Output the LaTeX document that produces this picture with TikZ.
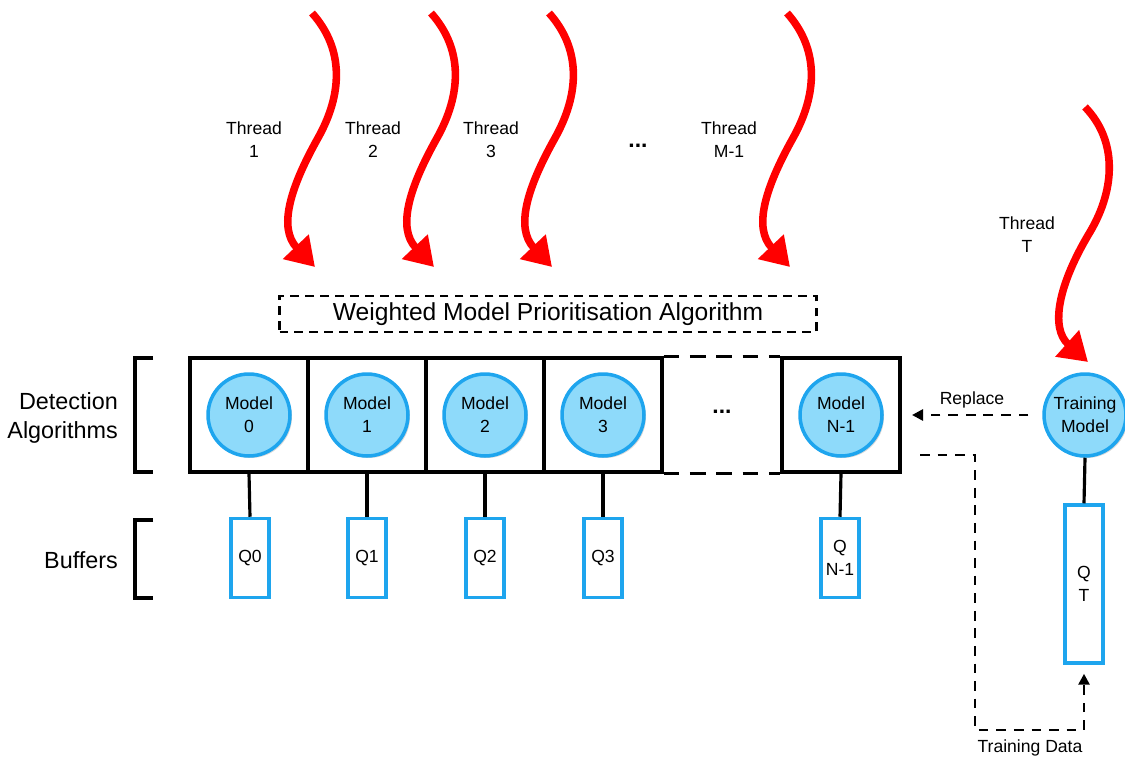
\documentclass[tikz,border=0pt]{standalone}
\usepackage{fontspec}
\setmainfont{Liberation Sans}
\usetikzlibrary{positioning,arrows.meta,shadows}
\definecolor{mblue}{RGB}{30,165,238}
\definecolor{mfill}{RGB}{142,218,250}
\tikzstyle{model} = [circle, draw=mblue, fill=mfill, line width=2pt, minimum size=1.64cm, inner sep=0pt, align=center, font=\fontsize{10}{13}\selectfont, drop shadow={opacity=0.3,shadow xshift=0.04cm,shadow yshift=-0.04cm}]
\tikzstyle{slot} = [rectangle, draw=black, line width=1.8pt, minimum width=2.36cm, minimum height=2.28cm, inner sep=0pt]
\tikzstyle{buffer} = [rectangle, draw=mblue, fill=white, line width=2pt, minimum width=0.76cm, minimum height=1.58cm, inner sep=0pt, align=center, font=\fontsize{10}{13}\selectfont, drop shadow={opacity=0.3,shadow xshift=0.04cm,shadow yshift=-0.04cm}]
\tikzstyle{thread} = [red, line width=4.3pt, -{Triangle[length=0.56cm,width=0.68cm]}]
\tikzstyle{dasharrow} = [line width=1.5pt, dash pattern=on 5.5pt off 4.5pt, -{Triangle[length=0.22cm,width=0.22cm]}]
\tikzstyle{lbl} = [align=center, font=\fontsize{10}{13}\selectfont]
\tikzstyle{dots} = [font=\fontsize{13}{13}\selectfont\bfseries]
\tikzstyle{side} = [align=right, font=\fontsize{13.3}{16.5}\selectfont]

\begin{document}
\begin{tikzpicture}[x=0.02cm, y=-0.02cm]
\useasboundingbox (0,0) rectangle (1125,760);
% threads M
\foreach \dx/\t in {0/1, 119/2, 237/3, 475/M-1} {
  \draw[thread] (312+\dx,13) .. controls (345+\dx,50) and (342+\dx,95) .. (318+\dx,138)
    .. controls (290+\dx,188) and (278+\dx,228) .. (315+\dx,267);
  \node[lbl] (th\t) at (254+\dx,140) {Thread\\\t};
}
\node[dots] (thdots) at (638,146) {...};
% thread T
\draw[thread] (1085,107) .. controls (1117,140) and (1116,188) .. (1090,232)
  .. controls (1058,285) and (1050,328) .. (1088,362);
\node[lbl] (thT) at (1027,235) {Thread\\T};
\node[draw, line width=1.3pt, dash pattern=on 5pt off 3.5pt, minimum width=10.74cm, minimum height=0.72cm, font=\fontsize{14}{16}\selectfont] (wmpa) at (548,314) {Weighted Model Prioritisation Algorithm};
% model slots
\node[slot] (b0) at (249,415) {};
\node[slot] (b1) at (367,415) {};
\node[slot] (b2) at (485,415) {};
\node[slot] (b3) at (603,415) {};
\node[slot] (bN) at (841,415) {};
\draw[line width=1.8pt, dash pattern=on 9pt off 6pt] (b3.north east) -- (bN.north west);
\draw[line width=1.8pt, dash pattern=on 9pt off 6pt] (b3.south east) -- (bN.south west);
\node[dots] (bdots) at (722,412) {...};
\node[model] (m0) at (b0) {Model\\0};
\node[model] (m1) at (b1) {Model\\1};
\node[model] (m2) at (b2) {Model\\2};
\node[model] (m3) at (b3) {Model\\3};
\node[model] (mN) at (bN) {Model\\N-1};
\node[model] (tm) at (1085,415) {Training\\Model};
% buffers
\node[buffer] (q0) at (250,558) {Q0};
\node[buffer] (q1) at (367,558) {Q1};
\node[buffer] (q2) at (485,558) {Q2};
\node[buffer] (q3) at (603,558) {Q3};
\node[buffer] (qN) at (840,558) {Q\\N-1};
\node[buffer, minimum height=3.16cm] (qt) at (1084,584) {Q\\T};
\foreach \i in {0,1,2,3,N} {
  \draw[line width=1.8pt] (b\i.south) -- (q\i.north);
}
\draw[line width=1.8pt] (tm.south) -- (qt.north);
% brackets
\draw[line width=1.8pt] (153,358) -- (135,358) -- (135,472) -- (153,472);
\draw[line width=1.8pt] (153,520) -- (135,520) -- (135,598) -- (153,598);
\node[side, anchor=east] (det) at (124,418) {Detection\\Algorithms};
\node[side, anchor=east] (buf) at (124,560) {Buffers};
% replace and training data
\coordinate (rp) at (912,415);
\draw[dasharrow, shorten <=0.28cm] (tm.west) -- (rp);
\node[lbl] (rplbl) at (972,400) {Replace};
\coordinate (td0) at (920,455);
\coordinate (td1) at (975,730);
\draw[dasharrow, shorten >=0.18cm] (td0) -| (td1) -| (qt.south);
\node[lbl] (tdlbl) at (1030,748) {Training Data};
\end{tikzpicture}
\end{document}
